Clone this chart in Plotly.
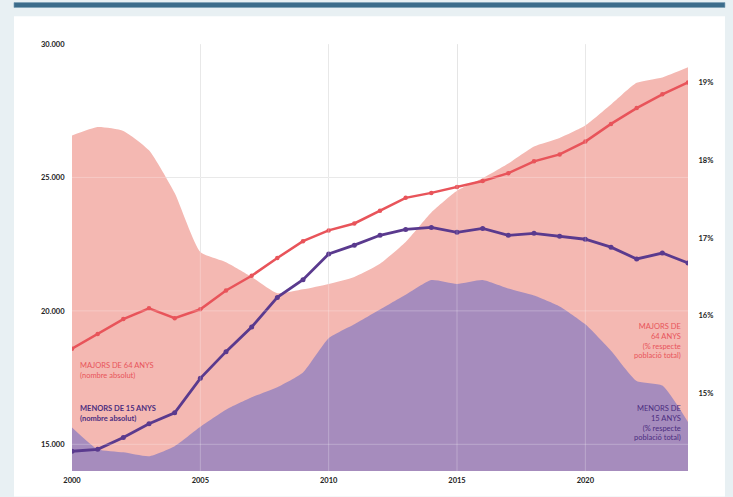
import plotly.graph_objects as go

years = list(range(2000, 2025))

# Majors de 64 anys, nombre absolut (left axis)
majors_abs = [18583, 19137, 19691, 20097, 19728, 20060, 20763, 21317, 21982, 22610,
              23016, 23275, 23755, 24236, 24421, 24642, 24864, 25160, 25603, 25862,
              26342, 27007, 27598, 28116, 28559]
# Menors de 15 anys, nombre absolut (left axis)
menors_abs = [14740, 14813, 15257, 15774, 16181, 17474, 18472, 19395, 20504, 21169,
              22130, 22462, 22832, 23053, 23127, 22942, 23090, 22832, 22906, 22795,
              22684, 22388, 21945, 22167, 21797]
# Majors de 64 anys, % respecte població total (right axis)
majors_pct = [18.32, 18.43, 18.38, 18.13, 17.58, 16.82, 16.69, 16.50, 16.29, 16.34,
              16.41, 16.50, 16.67, 16.95, 17.33, 17.61, 17.77, 17.96, 18.18, 18.29,
              18.45, 18.72, 19.00, 19.07, 19.20]
# Menors de 15 anys, % respecte població total (right axis)
menors_pct = [14.56, 14.28, 14.24, 14.19, 14.32, 14.57, 14.79, 14.95, 15.08, 15.27,
              15.71, 15.89, 16.08, 16.27, 16.46, 16.41, 16.46, 16.35, 16.26, 16.12,
              15.89, 15.55, 15.16, 15.10, 14.63]

x_ticks = [2000, 2005, 2010, 2015, 2020]
left_ticks = [15000, 20000, 25000, 30000]
left_labels = ["15.000", "20.000", "25.000", "30.000"]
right_ticks = [15, 16, 17, 18, 19]
right_labels = ["15%", "16%", "17%", "18%", "19%"]

RED = "#e8545a"
PURPLE_LINE = "#5a3a8e"
PINK_FILL = "rgb(244,184,178)"
PURPLE_FILL = "rgb(166,140,189)"
TICKFONT = dict(family="Lato, Arial, sans-serif", size=7.5, color="#222222")

fig = go.Figure()

fig.add_trace(go.Scatter(x=years, y=majors_pct, yaxis="y", mode="lines",
                         line=dict(width=0, shape="spline", smoothing=0.5),
                         fill="tozeroy", fillcolor=PINK_FILL, hoverinfo="skip",
                         showlegend=False))
fig.add_trace(go.Scatter(x=years, y=menors_pct, yaxis="y", mode="lines",
                         line=dict(width=0, shape="spline", smoothing=0.5),
                         fill="tozeroy", fillcolor=PURPLE_FILL, hoverinfo="skip",
                         showlegend=False))
fig.add_trace(go.Scatter(x=years, y=majors_abs, yaxis="y2", mode="lines+markers",
                         line=dict(color=RED, width=2.5),
                         marker=dict(color=RED, size=4.5), showlegend=False))
fig.add_trace(go.Scatter(x=years, y=menors_abs, yaxis="y2", mode="lines+markers",
                         line=dict(color=PURPLE_LINE, width=2.8),
                         marker=dict(color=PURPLE_LINE, size=5), showlegend=False))

shapes = []
# white panel and top bar
shapes.append(dict(type="rect", xref="paper", yref="paper", x0=-0.0942, x1=1.0600,
                   y0=-0.06, y1=1.0647, fillcolor="white", line=dict(width=0),
                   layer="below"))
shapes.append(dict(type="rect", xref="paper", yref="paper", x0=-0.0942, x1=1.0600,
                   y0=1.0855, y1=1.0970, fillcolor="#3b6c8b",
                   line=dict(width=0.6, color="#7aa0b6"), layer="below"))
# faint gridlines over the areas
for xv in x_ticks[1:]:
    shapes.append(dict(type="line", xref="x", yref="paper", x0=xv, x1=xv, y0=0, y1=1,
                       line=dict(color="rgba(255,255,255,0.25)", width=1), layer="above"))
for yv in left_ticks:
    shapes.append(dict(type="line", xref="paper", yref="y2", x0=0, x1=1, y0=yv, y1=yv,
                       line=dict(color="rgba(255,255,255,0.25)", width=1), layer="above"))

ann_font = dict(family="Lato, Arial, sans-serif", size=7.5)
annotations = [
    dict(x=2000.25, y=17780, xref="x", yref="y2", xanchor="left", yanchor="middle",
         align="left", showarrow=False,
         text="MAJORS DE 64 ANYS<br>(nombre absolut)",
         font=dict(color=RED, **ann_font)),
    dict(x=2000.25, y=16170, xref="x", yref="y2", xanchor="left", yanchor="middle",
         align="left", showarrow=False,
         text="<b>MENORS DE 15 ANYS</b><br><b>(nombre absolut)</b>",
         font=dict(color="#4b2d80", **ann_font)),
    dict(x=2023.8, y=15.68, xref="x", yref="y", xanchor="right", yanchor="middle",
         align="right", showarrow=False,
         text="MAJORS DE<br>64 ANYS<br>(% respecte<br>població total)",
         font=dict(color=RED, **ann_font)),
    dict(x=2023.8, y=14.62, xref="x", yref="y", xanchor="right", yanchor="middle",
         align="right", showarrow=False,
         text="MENORS DE<br>15 ANYS<br>(% respecte<br>població total)",
         font=dict(color="#4b2d80", **ann_font)),
]

fig.update_layout(
    width=733, height=497,
    margin=dict(l=72, r=45, t=44, b=20),
    paper_bgcolor="#e8f0f3",
    plot_bgcolor="white",
    showlegend=False,
    shapes=shapes,
    annotations=annotations,
    xaxis=dict(range=[2000, 2024], tickvals=x_ticks,
               ticktext=["<b>%d</b>" % v for v in x_ticks],
               showgrid=True, gridcolor="#e2e2e2", gridwidth=1, zeroline=False,
               showline=False, ticks="outside", ticklen=2, tickcolor="rgba(0,0,0,0)",
               tickfont=TICKFONT),
    yaxis=dict(range=[14, 19.5], side="right", tickvals=right_ticks,
               ticktext=["<b>%s</b>" % t for t in right_labels],
               showgrid=False, zeroline=False, showline=False, ticks="outside",
               ticklen=8, tickcolor="rgba(0,0,0,0)", tickfont=TICKFONT),
    yaxis2=dict(range=[14000, 30000], side="left", overlaying="y", tickvals=left_ticks,
                ticktext=["<b>%s</b>" % t for t in left_labels],
                showgrid=True, gridcolor="#e2e2e2", gridwidth=1,
                zeroline=False, showline=False, ticks="outside", ticklen=5,
                tickcolor="rgba(0,0,0,0)", tickfont=TICKFONT),
)

fig.write_html("out.html", config={"displayModeBar": False},
               post_script="document.body.style.margin='0';document.body.style.background='#e8f0f3';")
